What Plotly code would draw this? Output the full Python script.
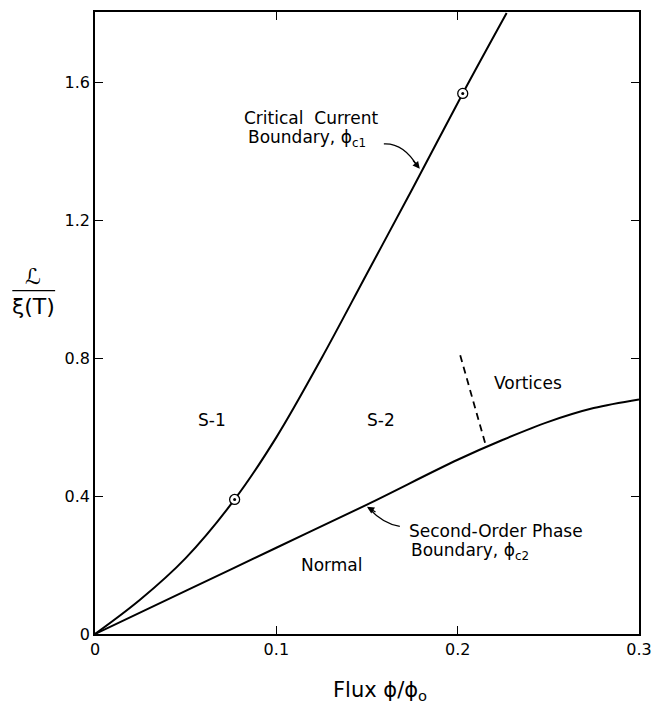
import plotly.graph_objects as go

# Critical current boundary (phi_c1)
c1_x = [0.0, 0.025, 0.05, 0.077, 0.10, 0.125, 0.15, 0.175, 0.2028, 0.227]
c1_y = [0.0, 0.10, 0.22, 0.39, 0.57, 0.80, 1.045, 1.29, 1.567, 1.80]

# Second-order phase boundary (phi_c2)
c2_x = [0.0, 0.05, 0.10, 0.15, 0.20, 0.225, 0.25, 0.275, 0.30]
c2_y = [0.0, 0.125, 0.25, 0.375, 0.505, 0.563, 0.615, 0.655, 0.68]

# Marked points on the critical current boundary
pt_x = [0.077, 0.2028]
pt_y = [0.39, 1.567]

# Vortex boundary (dashed)
vx = [0.2014, 0.2157]
vy = [0.808, 0.543]

x_ticks = [0, 0.1, 0.2, 0.3]
x_ticklabels = ["0", "0.1", "0.2", "0.3"]
y_ticks = [0, 0.4, 0.8, 1.2, 1.6]
y_ticklabels = ["0", "0.4", "0.8", "1.2", "1.6"]

FONT = "DejaVu Sans, Liberation Sans, Arial, sans-serif"

fig = go.Figure()
fig.add_trace(go.Scatter(x=c1_x, y=c1_y, mode="lines",
                         line=dict(color="black", width=2, shape="spline", smoothing=1.0)))
fig.add_trace(go.Scatter(x=c2_x, y=c2_y, mode="lines",
                         line=dict(color="black", width=2, shape="spline", smoothing=1.0)))
fig.add_trace(go.Scatter(x=vx, y=vy, mode="lines",
                         line=dict(color="black", width=1.8, dash="7px,5px")))
fig.add_trace(go.Scatter(x=pt_x, y=pt_y, mode="markers",
                         marker=dict(symbol="circle", size=10, color="white",
                                     line=dict(color="black", width=1.3))))
fig.add_trace(go.Scatter(x=pt_x, y=pt_y, mode="markers",
                         marker=dict(symbol="circle", size=3, color="black")))

ann = []
def txt(x, y, t, xanchor="center", size=17, xref="x", yref="y"):
    ann.append(dict(x=x, y=y, xref=xref, yref=yref, text=t, showarrow=False,
                    xanchor=xanchor, yanchor="middle",
                    font=dict(family=FONT, size=size, color="black")))

txt(0.0643, 0.62, "S-1")
txt(0.1577, 0.62, "S-2")
txt(0.239, 0.727, "Vortices")
txt(0.1308, 0.201, "Normal")
txt(0.0808, 1.4957, "Critical  Current", xanchor="left")
txt(0.083, 1.435, "Boundary, ϕ<sub>c1</sub>", xanchor="left")
txt(0.172, 0.300, "Second-Order Phase", xanchor="left")
txt(0.173, 0.240, "Boundary, ϕ<sub>c2</sub>", xanchor="left")

# axis titles
txt(0.524, -0.092, "Flux ϕ/ϕ<sub>o</sub>", size=21, xref="paper", yref="paper")
txt(-0.1136, 0.575, "ℒ", size=22, xref="paper", yref="paper")
txt(-0.1136, 0.527, "ξ(T)", size=22, xref="paper", yref="paper")

# arrowheads
ann.append(dict(x=0.1791, y=1.3483, xref="x", yref="y", ax=-8, ay=-10, text="",
                showarrow=True, arrowhead=2, arrowsize=1.1, arrowwidth=1.3, arrowcolor="black"))
ann.append(dict(x=0.1500, y=0.3685, xref="x", yref="y", ax=10, ay=6, text="",
                showarrow=True, arrowhead=2, arrowsize=1.1, arrowwidth=1.3, arrowcolor="black"))

shapes = [
    # curved arrow shafts
    dict(type="path", xref="x", yref="y",
         path="M 0.1593,1.4205 Q 0.1703,1.4234 0.1780,1.354",
         line=dict(color="black", width=1.3)),
    dict(type="path", xref="x", yref="y",
         path="M 0.1681,0.3121 Q 0.1593,0.3179 0.1510,0.3642",
         line=dict(color="black", width=1.3)),
    # fraction bar of y label
    dict(type="line", xref="paper", yref="paper", x0=-0.152, x1=-0.0733,
         y0=0.552, y1=0.552, line=dict(color="black", width=1.2)),
]

fig.update_layout(
    width=662, height=706,
    margin=dict(l=95, r=21, t=10.5, b=71.5),
    paper_bgcolor="white", plot_bgcolor="white",
    showlegend=False,
    annotations=ann, shapes=shapes,
    font=dict(family=FONT, size=16, color="black"),
)
fig.update_xaxes(range=[0, 0.3], tickvals=x_ticks, ticktext=x_ticklabels,
                 showline=True, linecolor="black", linewidth=1.6, mirror="ticks",
                 ticks="inside", ticklen=8, tickwidth=1.3, tickcolor="black",
                 showgrid=False, zeroline=False,
                 tickfont=dict(family=FONT, size=16, color="black"))
fig.update_yaxes(range=[0, 1.803], tickvals=y_ticks, ticktext=y_ticklabels,
                 showline=True, linecolor="black", linewidth=1.6, mirror="ticks",
                 ticks="inside", ticklen=8, tickwidth=1.3, tickcolor="black",
                 showgrid=False, zeroline=False,
                 tickfont=dict(family=FONT, size=16, color="black"))

fig.write_html("out.html")
